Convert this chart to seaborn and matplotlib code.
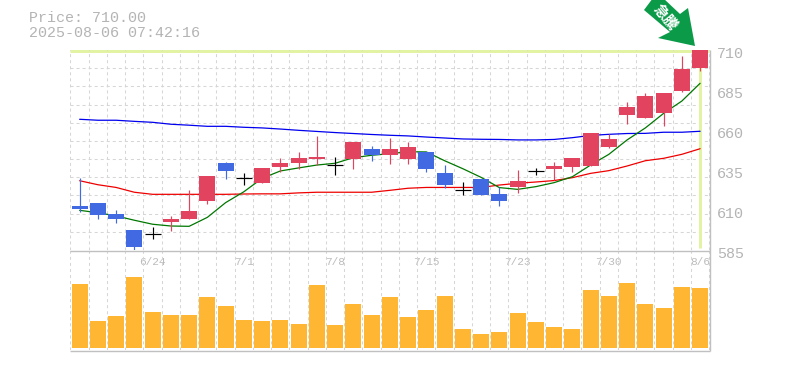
import matplotlib
matplotlib.use("Agg")
import matplotlib.pyplot as plt
from matplotlib.patches import Polygon
import numpy as np
import pandas as pd
import seaborn as sns

sns.set_style("white")
plt.rcParams['font.family'] = ['Liberation Mono', 'Noto Sans CJK JP', 'DejaVu Sans']

opens = [612.5,614.5,607.5,597.5,595,602.5,604.5,615.6,639.4,630,627,636.9,639.4,641.9,638,641.9,648.1,644.4,641.9,646.3,633.1,622.3,629.4,620,624.4,634.2,635.6,636.9,637.5,649.4,669.4,667.5,670.6,684.4,698.8]
closes = [610.5,606.9,604.4,586.9,595,604.4,609.4,631.3,634.4,630,636.3,639.4,642.5,643.1,638,652.5,644.4,648.1,649.4,635.6,625.6,622.3,619.4,615.6,628.1,634.2,637.5,642.5,658.1,654.4,674.4,681.3,683.1,698.1,710]
highs = [630,614.5,610,597.5,599.4,606.3,622.5,631.3,640,633.1,636.3,642.5,646.3,656.3,643.1,652.5,650,655,652.5,646.3,638.1,627.5,629.4,624.4,635,636.3,640,642.5,658.1,657.5,677.5,683.1,683.1,706.3,710]
lows = [609,604.5,602,584.6,591.9,596.9,604.4,613.8,629.4,625.6,627,633.8,635.6,638.1,631.9,635.6,640.6,638.8,638.8,633.8,623.8,619.4,619.4,612.5,620.6,631.9,628.8,633.8,637.5,648.8,663.8,667.5,662.5,683.8,696.9]
ma_short = [609.8,608.3,606.3,603.6,601.1,600,599.8,605.4,614.6,621.4,629.8,634.4,636.3,638.1,639.2,642.7,644.2,645.2,646.4,646.3,640.8,635.8,630.4,624,622.9,624.6,627.1,630.8,638.1,644.8,653.8,661.3,670.4,678.1,689.2]
ma_mid = [628.3,625.8,624.1,621.1,619.8,619.8,619.8,619.8,619.8,620,620.1,620.1,620.7,621.1,621.1,621.1,621.1,622.3,623.6,624.1,624.1,624.1,624.1,625.6,626.7,627.5,628.4,630.2,632.9,634.6,637.5,640.8,642.3,644.8,648.3]
ma_long = [666.7,666.1,666.1,665.4,664.8,663.6,663,662.3,662.3,661.7,661.3,660.6,659.8,659.1,658.4,657.8,657.2,656.7,656.3,655.6,655,654.4,654.2,654.1,653.8,653.8,654.1,655.2,656.6,657.3,657.8,657.9,658.6,658.6,659.2]
volumes = [64,27,32,71,36,33,33,51,42,28,27,28,24,63,23,44,33,51,31,38,52,19,14,16,35,26,21,19,58,52,65,44,40,61,60]
date_labels = {4:"6/24", 9:"7/1", 14:"7/8", 19:"7/15", 24:"7/23", 29:"7/30", 34:"8/6"}
price_ticks = [710,685,660,635,610,585]

W, H = 785, 370
RED, BLUE, BLACK = "#e24460", "#4169e1", "#000000"
GRID, AXIS, TXT, HILITE = "#d6d6d6", "#c0c0c0", "#b4b4b4", "#e2f3a4"
L, R = 70.3, 710.0
SLOT = 18.25
SHIFT = 0.01  # candle centres sit slightly right of the slot middle

fig = plt.figure(figsize=(W/100, H/100), dpi=100, facecolor="white")
def box(x0, y0, x1, y1):
    return [x0/W, 1-y1/H, (x1-x0)/W, (y1-y0)/H]
ax = fig.add_axes(box(L, 50, R, 250), zorder=3)
vx = fig.add_axes(box(L, 250, R, 350), zorder=3)
xr = (-0.5 - SHIFT, -0.5 - SHIFT + (R-L)/SLOT)
df = pd.DataFrame(dict(i=range(35), o=opens, c=closes, h=highs, l=lows, s=ma_short, m=ma_mid, g=ma_long, v=volumes))
DASH = (0, (2.9, 2.9))

for a in (ax, vx):
    a.set_xlim(*xr)
    a.patch.set_alpha(0)
    for s in a.spines.values():
        s.set_visible(False)
    a.vlines(np.arange(0, 36)-0.5-SHIFT, 0, 1, transform=a.get_xaxis_transform(), color=GRID, lw=0.75, ls=DASH, zorder=0)
    a.set_xticks([]); a.set_yticks([]); a.set_xlabel(""); a.set_ylabel("")

# price panel
ax.set_ylim(585, 710)
ax.hlines(np.linspace(585, 710, 12)[1:-1], 0, 1, transform=ax.get_yaxis_transform(), color=GRID, lw=0.75, ls=DASH, zorder=0)
ax.plot([34, 34], [586, 710], color=HILITE, lw=2.16, zorder=1, solid_capstyle="butt", clip_on=False)
for col, color in (("g", "#0000ee"), ("m", "#ee0000"), ("s", "#007700")):
    sns.lineplot(data=df, x="i", y=col, ax=ax, color=color, lw=0.9, zorder=2, legend=False, errorbar=None)
ax.set_xlabel(""); ax.set_ylabel(""); ax.set_xticks([]); ax.set_yticks([])

for row in df.itertuples():
    color = BLACK if row.o == row.c else (RED if row.c > row.o else BLUE)
    ax.vlines(row.i, row.l, row.h, color=color, lw=0.85, zorder=3)
    if row.o == row.c:
        ax.hlines(row.o, row.i-0.44, row.i+0.44, color=color, lw=0.85, zorder=3)
    else:
        ax.bar(row.i, abs(row.c-row.o), bottom=min(row.o, row.c), width=16/SLOT, color=color, lw=0, zorder=4)
for i, label in date_labels.items():
    ax.annotate(label, (i, 0), xycoords=ax.get_xaxis_transform(), xytext=(0, -12), textcoords="offset pixels",
                ha="center", va="center", fontsize=8.0, color="#bcbcbc")
for p in price_ticks:
    ax.annotate(str(p), (1, p), xycoords=ax.get_yaxis_transform(), xytext=(7, -4), textcoords="offset pixels",
                ha="left", va="center", fontsize=10.8, color=TXT, annotation_clip=False)

# volume panel
sns.barplot(data=df, x="i", y="v", ax=vx, native_scale=True, color="#ffb733", width=16/SLOT, saturation=1, lw=0, zorder=2, errorbar=None)
vx.set_xlim(*xr)
vx.set_ylim(-2, 98)
vx.set_xlabel(""); vx.set_ylabel(""); vx.set_xticks([]); vx.set_yticks([])

# frame lines (figure pixels)
def line(xs, ys, color, lw, z=5):
    fig.add_artist(plt.Line2D([x/W for x in xs], [1-y/H for y in ys], color=color, lw=lw, zorder=z, solid_capstyle="butt"))
line([L, R], [250.5, 250.5], AXIS, 1.0)
line([L, R], [350.5, 350.5], AXIS, 1.0)
line([R, R], [50, 351], AXIS, 1.0)
line([L, 709], [50.5, 50.5], HILITE, 2.16, 1)

fig.text(29/W, 1-18/H, "Price: 710.00", fontsize=10.8, color=TXT, va="center", ha="left")
fig.text(29/W, 1-33/H, "2025-08-06 07:42:16", fontsize=10.8, color=TXT, va="center", ha="left")

# arrow badge
pts = [(695, 46), (688, 8), (680, 14), (663, -2), (653, -2), (644, 10), (670, 32), (658, 38)]
fig.add_artist(Polygon([(x/W, 1-y/H) for x, y in pts], closed=True, transform=fig.transFigure, facecolor="#0a9a48", edgecolor="none", zorder=6))
fig.text(665.5/W, 1-17/H, "急騰", fontsize=10.5, color="white", rotation=-50, rotation_mode="anchor", ha="center", va="center",
         fontweight="bold", family="Noto Sans CJK JP", zorder=7)

fig.savefig("out.png", dpi=100, facecolor="white")
